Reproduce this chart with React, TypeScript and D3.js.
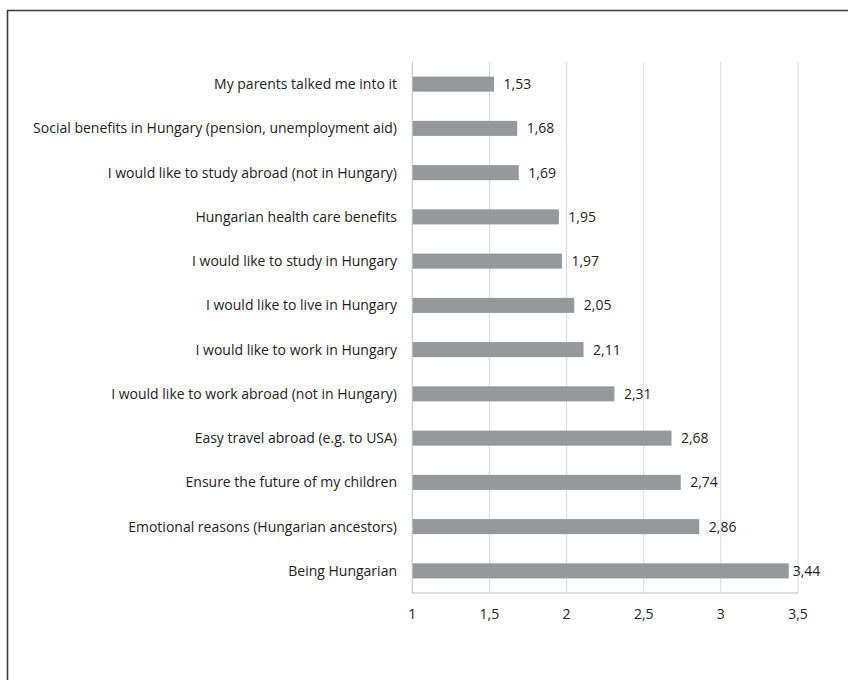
import React from "react";
import * as d3 from "d3";

const categories = [
  "My parents talked me into it",
  "Social benefits in Hungary (pension, unemployment aid)",
  "I would like to study abroad (not in Hungary)",
  "Hungarian health care benefits",
  "I would like to study in Hungary",
  "I would like to live in Hungary",
  "I would like to work in Hungary",
  "I would like to work abroad (not in Hungary)",
  "Easy travel abroad (e.g. to USA)",
  "Ensure the future of my children",
  "Emotional reasons (Hungarian ancestors)",
  "Being Hungarian",
];
const values = [1.53, 1.68, 1.69, 1.95, 1.97, 2.05, 2.11, 2.31, 2.68, 2.74, 2.86, 3.44];
const ticks = [1, 1.5, 2, 2.5, 3, 3.5];

const W = 848;
const H = 680;
const FONT = "'Open Sans', sans-serif";
const FS = 14;

export default function App() {
  const x = d3.scaleLinear().domain([1, 3.5]).range([412.3, 798]);
  const y = d3.scaleBand<string>().domain(categories).range([62, 593]).paddingInner(0.66).paddingOuter(0.33);
  const fmt = (v: number) => String(v).replace(".", ",");
  const labelMax = 792.7;
  return (
    <svg width={W} height={H} style={{ position: "absolute", left: 0, top: 0, background: "#fff" }}>
      <rect x={0} y={0} width={W} height={H} fill="#fff" />
      <path d={`M7.5,${H} V10.5 H${W}`} fill="none" stroke="#3a3a3a" strokeWidth={1.6} />
      {ticks.slice(1).map((t) => (
        <line key={t} x1={x(t)} x2={x(t)} y1={62} y2={593} stroke="#d9d9d9" strokeWidth={1} />
      ))}
      {categories.map((c, i) => (
        <g key={c}>
          <rect x={x(1)} y={y(c)!} width={x(values[i]) - x(1)} height={y.bandwidth()} fill="#97989a" />
          <text
            x={Math.min(x(values[i]) + 9.5, labelMax)}
            y={y(c)! + y.bandwidth() / 2}
            dy="0.35em"
            fontFamily={FONT}
            fontSize={FS}
            fill="#222"
          >
            {fmt(values[i])}
          </text>
          <text
            x={397}
            y={y(c)! + y.bandwidth() / 2}
            dy="0.35em"
            textAnchor="end"
            fontFamily={FONT}
            fontSize={FS}
            fill="#222"
          >
            {c}
          </text>
        </g>
      ))}
      <line x1={x(1)} x2={x(1)} y1={62} y2={593} stroke="#bfbfbf" strokeWidth={1} />
      <line x1={x(1)} x2={x(3.5)} y1={593} y2={593} stroke="#bfbfbf" strokeWidth={1} />
      {ticks.map((t) => (
        <text key={t} x={x(t)} y={614} dy="0.35em" textAnchor="middle" fontFamily={FONT} fontSize={FS} fill="#222">
          {fmt(t)}
        </text>
      ))}
    </svg>
  );
}
